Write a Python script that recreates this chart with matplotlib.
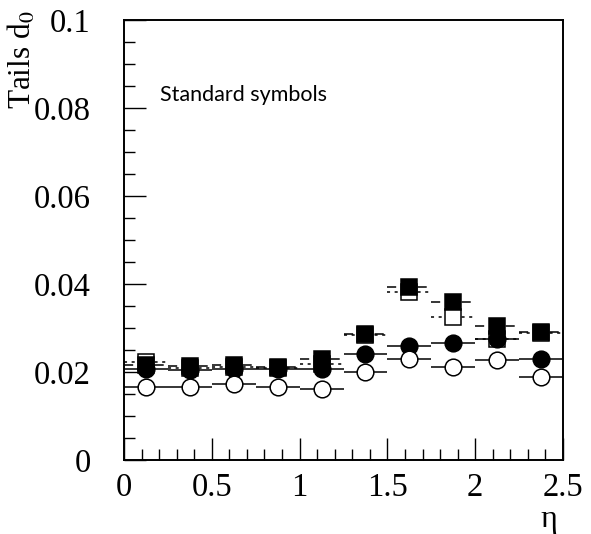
import numpy as np
import matplotlib
matplotlib.use('Agg')
import matplotlib.pyplot as plt

plt.rcParams['font.family'] = 'Liberation Serif'
plt.rcParams['mathtext.fontset'] = 'stix'

# eta bins of width 0.25
eta = [0.125, 0.375, 0.625, 0.875, 1.125, 1.375, 1.625, 1.875, 2.125, 2.375]
eta_halfwidth = 0.125

full_sq = [0.0215, 0.0213, 0.0215, 0.0212, 0.0229, 0.0286, 0.0394, 0.0359, 0.0305, 0.0290]
open_sq = [0.0222, 0.0210, 0.0212, 0.0210, 0.0218, 0.0284, 0.0382, 0.0326, 0.0274, 0.0288]
full_circ = [0.0206, 0.0205, 0.0206, 0.0207, 0.0207, 0.0240, 0.0259, 0.0265, 0.0276, 0.0229]
open_circ = [0.0165, 0.0167, 0.0172, 0.0167, 0.0162, 0.0199, 0.0230, 0.0212, 0.0227, 0.0188]

x_ticks = [0, 0.5, 1, 1.5, 2, 2.5]
x_ticklabels = ['0', '0.5', '1', '1.5', '2', '2.5']
y_ticks = [0, 0.02, 0.04, 0.06, 0.08, 0.1]
y_ticklabels = ['0', '0.02', '0.04', '0.06', '0.08', '0.1']

fig = plt.figure(figsize=(5.91, 5.34), dpi=100)
ax = fig.add_axes([124/591, 74/534, 439/591, 440/534])

def draw_series(y, marker, face, ls, z):
    eb = ax.errorbar(eta, y, xerr=eta_halfwidth, fmt=marker, ms=12,
                     mfc=face, mec='black', mew=1.1, ecolor='black',
                     elinewidth=1.1, capsize=0, zorder=z)
    eb[2][0].set_linestyle(ls)
    return eb

# draw order: open squares, full squares, full circles, open circles
draw_series(open_sq, 's', 'white', (0, (2, 3)), 2)
draw_series(full_sq, 's', 'black', (0, (6, 4)), 3)
draw_series(full_circ, 'o', 'black', '-', 4)
draw_series(open_circ, 'o', 'white', '-', 5)

ax.set_xlim(0, 2.5)
ax.set_ylim(0, 0.1)
ax.set_xticks(x_ticks)
ax.set_xticklabels(x_ticklabels)
ax.set_yticks(y_ticks)
ax.set_yticklabels(y_ticklabels)
ax.set_xticks(np.arange(0, 2.5001, 0.1), minor=True)
ax.set_yticks(np.arange(0, 0.1001, 0.005), minor=True)
ax.tick_params(which='both', direction='in', top=False, right=False,
               labelsize=23.5, width=1.0)
ax.tick_params(axis='y', which='major', length=16, pad=24)
ax.tick_params(axis='x', which='major', length=16, pad=9)
ax.tick_params(which='minor', length=8)
for sp in ax.spines.values():
    sp.set_linewidth(1.4)

ax.text(0.205, 0.083, 'Standard symbols', family='Lato',
        fontsize=15.5, va='center', ha='left')

fig.text(22/591, 1 - 10/534, 'Tails d$_0$', rotation=90, ha='center',
         va='top', fontsize=22.5)
fig.text(557/591, 1 - 519/534, 'η', ha='right', va='center', fontsize=23)

fig.savefig('out.png', dpi=100)
